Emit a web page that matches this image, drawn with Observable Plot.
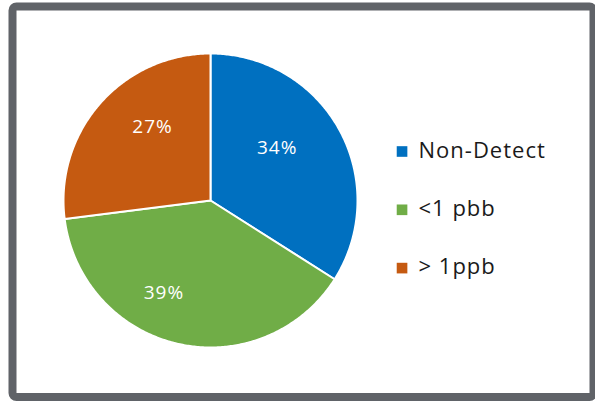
<!DOCTYPE html>
<html><head><meta charset="utf-8">
<script src="https://cdn.jsdelivr.net/npm/d3@7"></script>
<script src="https://cdn.jsdelivr.net/npm/@observablehq/plot@0.6"></script>
<style>
body{margin:0;background:#fff}
#chart svg text{letter-spacing:1px}
</style>
</head><body><div id="chart"></div>
<script>
const categories = ["Non-Detect", "<1 pbb", "> 1ppb"];
const shares = [34, 39, 27];
const labels = ["34%", "39%", "27%"];
const colors = ["#0070C0", "#70AD47", "#C55A11"];

// layout (pixel nudges of the percentage labels from the slice mid-angle)
const labelNudge = [[-8, -12], [-28, 9], [6, -17]];

const rows = categories.map((c, i) => ({category: c, value: shares[i], label: labels[i], i}));
const arcs = d3.pie().sort(null).value(d => d.value)(rows);

const pts = [];
arcs.forEach(a => {
  const n = Math.max(2, Math.ceil((a.endAngle - a.startAngle) / 0.01));
  pts.push({category: a.data.category, x: 0, y: 0});
  for (let k = 0; k <= n; k++) {
    const t = a.startAngle + (a.endAngle - a.startAngle) * k / n;
    pts.push({category: a.data.category, x: Math.sin(t), y: Math.cos(t)});
  }
});

const R = 147; // pixels per unit
const labelData = arcs.map(a => {
  const m = (a.startAngle + a.endAngle) / 2;
  const [nx, ny] = labelNudge[a.data.i];
  return {label: a.data.label, x: 0.58 * Math.sin(m) + nx / R, y: 0.58 * Math.cos(m) - ny / R};
});

const legendX = 1.303, legendTextX = 1.415, legendY0 = 49 / R, legendStep = 58.3 / R;

const chart = Plot.plot({
  width: 595,
  height: 402,
  marginLeft: 12,
  marginTop: 6,
  marginRight: 2,
  marginBottom: 5.5,
  style: {fontFamily: "'Open Sans', sans-serif", background: "#fff"},
  x: {domain: [-1, 1], range: [63, 357], axis: null},
  y: {domain: [-1, 1], range: [347, 53], axis: null},
  color: {domain: categories, range: colors},
  marks: [
    Plot.frame({stroke: "#606368", strokeWidth: 8, rx: 4}),
    Plot.line(pts, {x: "x", y: "y", z: "category", fill: "category", stroke: "white", strokeWidth: 2, curve: "linear-closed"}),
    Plot.text(labelData, {x: "x", y: "y", text: "label", fill: "white", fontSize: 19}),
    Plot.dot(categories, {x: () => legendX, y: (d, i) => legendY0 - i * legendStep, symbol: "square", r: 6, fill: d => d, stroke: null}),
    Plot.text(categories, {x: () => legendTextX, y: (d, i) => legendY0 - i * legendStep, dy: -1, text: d => d, textAnchor: "start", fill: "#1a1a1a", fontSize: 22})
  ]
});
document.getElementById("chart").append(chart);
</script>
</body></html>
